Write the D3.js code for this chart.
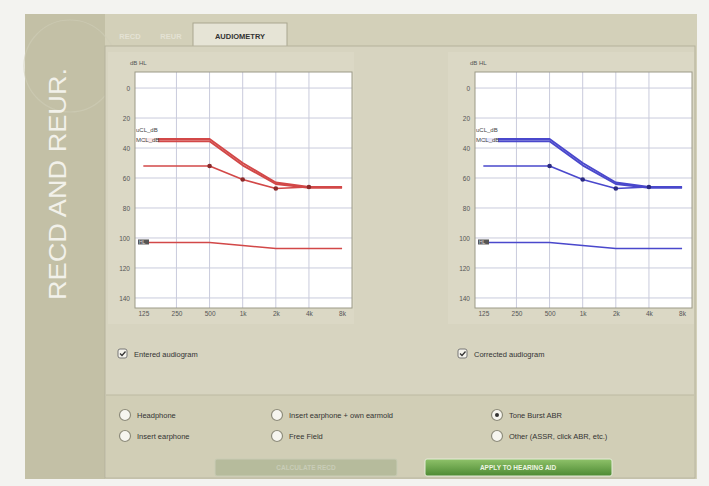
<!DOCTYPE html>
<html>
<head>
<meta charset="utf-8">
<script src="https://cdn.jsdelivr.net/npm/d3@7/dist/d3.min.js"></script>
<style>
  html, body { margin: 0; padding: 0; background: #f3f3f0; }
  svg { display: block; font-family: "Liberation Sans", Arial, sans-serif; }
</style>
</head>
<body>
<svg id="chart" width="709" height="486"></svg>
<script>
// ---------------- data ----------------
const frequencies = [125, 250, 500, 1000, 2000, 4000, 8000];
const freqTickLabels = ["125", "250", "500", "1k", "2k", "4k", "8k"];
const dbTicks = [0, 20, 40, 60, 80, 100, 120, 140];
const uclValues = [34, 34, 34, 50, 63, 66, 66];
const mclValues = [35.5, 35.5, 35.5, 51.5, 64, 66.5, 66.5];
const measuredValues = [52, 52, 52, 61, 67, 66, 66];
const markerFrequencies = [500, 1000, 2000, 4000];
const thresholdValues = [103, 103, 103, 105, 107, 107, 107];
const tabs = ["RECD", "REUR", "AUDIOMETRY"];
const panelTitles = ["Entered audiogram", "Corrected audiogram"];
const radioOptions = [
  ["Headphone", "Insert earphone + own earmold", "Tone Burst ABR"],
  ["Insert earphone", "Free Field", "Other (ASSR, click ABR, etc.)"]
];
const selectedRadio = "Tone Burst ABR";

// ---------------- drawing ----------------
const svg = d3.select("#chart");

// outer panel
svg.append("rect").attr("x", 25).attr("y", 14).attr("width", 672).attr("height", 465)
  .attr("fill", "#d3d0b9");
// left strip
svg.append("rect").attr("x", 25).attr("y", 14).attr("width", 80).attr("height", 465)
  .attr("fill", "#c3c0a6");
svg.append("circle").attr("cx", 70).attr("cy", 66).attr("r", 46)
  .attr("fill", "none").attr("stroke", "#cfcdb8").attr("stroke-width", 1.2).attr("opacity", 0.6);
svg.append("text")
  .attr("transform", "translate(66,300) rotate(-90)")
  .attr("font-size", 24).attr("fill", "#f2f1ea")
  .attr("textLength", 232).attr("lengthAdjust", "spacingAndGlyphs")
  .text("RECD AND REUR.");

// tab strip
const tabX = [[110, 40], [152, 38], [193, 94]];
tabs.forEach((t, i) => {
  const active = i === tabs.length - 1;
  const [tx, tw] = tabX[i];
  if (active) {
    svg.append("rect").attr("x", tx).attr("y", 23).attr("width", tw).attr("height", 24)
      .attr("fill", "#e6e4d6").attr("stroke", "#a9a690");
  }
  svg.append("text").attr("x", tx + tw / 2).attr("y", 39)
    .attr("text-anchor", "middle").attr("font-size", 7.5).attr("font-weight", "bold")
    .attr("fill", active ? "#333" : "#e4e2d4").text(t);
});

// content area
svg.append("rect").attr("x", 105).attr("y", 46).attr("width", 590).attr("height", 432)
  .attr("fill", "#d7d4c0").attr("stroke", "#b5b29b");
// bottom options area
svg.append("rect").attr("x", 106).attr("y", 395).attr("width", 588).attr("height", 82)
  .attr("fill", "#d1ceb6");
svg.append("line").attr("x1", 106).attr("x2", 694).attr("y1", 395).attr("y2", 395)
  .attr("stroke", "#bdbaa2");

function drawAudiogram(offsetX, color, dotColor, title) {
  const left = 135 + offsetX, right = 352 + offsetX, top = 72, bottom = 308;
  const x = d3.scaleLog().base(2).domain([105, 9850]).range([left, right]);
  const y = d3.scaleLinear().domain([-10.7, 146.7]).range([top, bottom]);

  // panel frame
  svg.append("rect").attr("x", left - 27).attr("y", 52).attr("width", right - left + 29)
    .attr("height", 272).attr("fill", "#dbd8c5");

  svg.append("rect").attr("x", left).attr("y", top).attr("width", right - left)
    .attr("height", bottom - top).attr("fill", "#ffffff");

  // grid
  svg.append("g").selectAll("line").data(dbTicks).join("line")
    .attr("x1", left).attr("x2", right).attr("y1", d => y(d)).attr("y2", d => y(d))
    .attr("stroke", "#c9cbdc").attr("stroke-width", 1);
  svg.append("g").selectAll("line").data(frequencies.slice(1, 6)).join("line")
    .attr("x1", d => x(d)).attr("x2", d => x(d)).attr("y1", top).attr("y2", bottom)
    .attr("stroke", "#c9cbdc").attr("stroke-width", 1);

  svg.append("rect").attr("x", left).attr("y", top).attr("width", right - left)
    .attr("height", bottom - top).attr("fill", "none").attr("stroke", "#9c9a88");

  // axes
  const yAxis = d3.axisLeft(y).tickValues(dbTicks).tickSize(0).tickPadding(5);
  const gy = svg.append("g").attr("transform", `translate(${left},0)`).call(yAxis);
  gy.select(".domain").remove();
  gy.selectAll("text").attr("font-size", 6.5).attr("fill", "#555");

  const xAxis = d3.axisBottom(x).tickValues(frequencies).tickSize(0).tickPadding(3)
    .tickFormat((d, i) => freqTickLabels[i]);
  const gx = svg.append("g").attr("transform", `translate(0,${bottom})`).call(xAxis);
  gx.select(".domain").remove();
  gx.selectAll("text").attr("font-size", 6.5).attr("fill", "#555");

  svg.append("text").attr("x", left - 5).attr("y", 65).attr("font-size", 6)
    .attr("fill", "#555").text("dB HL");

  const line = d3.line().x((d, i) => x(frequencies[i])).y(d => y(d));
  const curves = [
    { v: uclValues, w: 2 },
    { v: mclValues, w: 2 },
    { v: measuredValues, w: 1.6 },
    { v: thresholdValues, w: 1.6 }
  ];
  curves.forEach(c => {
    svg.append("path").datum(c.v).attr("d", line).attr("fill", "none")
      .attr("stroke", color).attr("stroke-width", c.w).attr("stroke-linejoin", "round");
  });

  svg.append("g").selectAll("circle").data(markerFrequencies).join("circle")
    .attr("cx", d => x(d)).attr("cy", d => y(measuredValues[frequencies.indexOf(d)]))
    .attr("r", 2.3).attr("fill", dotColor);

  // curve labels
  svg.append("text").attr("x", left + 1).attr("y", y(uclValues[0]) - 7)
    .attr("font-size", 6).attr("fill", "#444").text("uCL_dB");
  svg.append("rect").attr("x", left + 1).attr("y", y(mclValues[0]) - 5).attr("width", 22)
    .attr("height", 7).attr("fill", "#fff").attr("opacity", 0.85);
  svg.append("text").attr("x", left + 1).attr("y", y(mclValues[0]) + 1)
    .attr("font-size", 6).attr("fill", "#444").text("MCL_dB");
  svg.append("rect").attr("x", left + 3).attr("y", y(thresholdValues[0]) - 3).attr("width", 11)
    .attr("height", 5).attr("fill", "#555");
  svg.append("text").attr("x", left + 4).attr("y", y(thresholdValues[0]) + 1.5)
    .attr("font-size", 5).attr("fill", "#ddd").text("HL");

  // checkbox
  const cbx = left - 17, cby = 349;
  svg.append("rect").attr("x", cbx).attr("y", cby).attr("width", 9).attr("height", 9)
    .attr("rx", 2).attr("fill", "#f4f3ec").attr("stroke", "#777");
  svg.append("path").attr("d", `M${cbx + 2},${cby + 4.5} L${cbx + 4},${cby + 6.5} L${cbx + 7.5},${cby + 2.5}`)
    .attr("fill", "none").attr("stroke", "#333").attr("stroke-width", 1.3);
  svg.append("text").attr("x", cbx + 16).attr("y", cby + 8).attr("font-size", 7.5)
    .attr("fill", "#333").text(title);
}

drawAudiogram(0, "#d24848", "#8a2a2a", panelTitles[0]);
drawAudiogram(340, "#4a48cc", "#2a2a80", panelTitles[1]);

// radio options
const radioX = [125, 277, 497];
const radioY = [415, 436];
radioOptions.forEach((row, r) => {
  row.forEach((label, c) => {
    const cx = radioX[c], cy = radioY[r];
    svg.append("circle").attr("cx", cx).attr("cy", cy).attr("r", 5.5)
      .attr("fill", "#f6f5ef").attr("stroke", "#8d8b7a").attr("stroke-width", 1.2);
    if (label === selectedRadio) {
      svg.append("circle").attr("cx", cx).attr("cy", cy).attr("r", 2).attr("fill", "#333");
    }
    svg.append("text").attr("x", cx + 12).attr("y", cy + 3).attr("font-size", 7.5)
      .attr("fill", "#333").text(label);
  });
});

// buttons
const grad = svg.append("defs").append("linearGradient").attr("id", "g1")
  .attr("x1", 0).attr("x2", 0).attr("y1", 0).attr("y2", 1);
grad.append("stop").attr("offset", 0).attr("stop-color", "#8fc26a");
grad.append("stop").attr("offset", 1).attr("stop-color", "#4d8a33");
svg.append("rect").attr("x", 215).attr("y", 459).attr("width", 182).attr("height", 17)
  .attr("rx", 2).attr("fill", "#b6bb9c").attr("stroke", "#c9ccb5");
svg.append("text").attr("x", 306).attr("y", 470).attr("text-anchor", "middle")
  .attr("font-size", 6.5).attr("font-weight", "bold").attr("fill", "#c9cdb8").text("CALCULATE RECD");
svg.append("rect").attr("x", 425).attr("y", 459).attr("width", 187).attr("height", 17)
  .attr("rx", 2).attr("fill", "url(#g1)").attr("stroke", "#e6ecd9");
svg.append("text").attr("x", 518).attr("y", 470).attr("text-anchor", "middle")
  .attr("font-size", 6.5).attr("font-weight", "bold").attr("fill", "#eef5e4").text("APPLY TO HEARING AID");
</script>
</body>
</html>
